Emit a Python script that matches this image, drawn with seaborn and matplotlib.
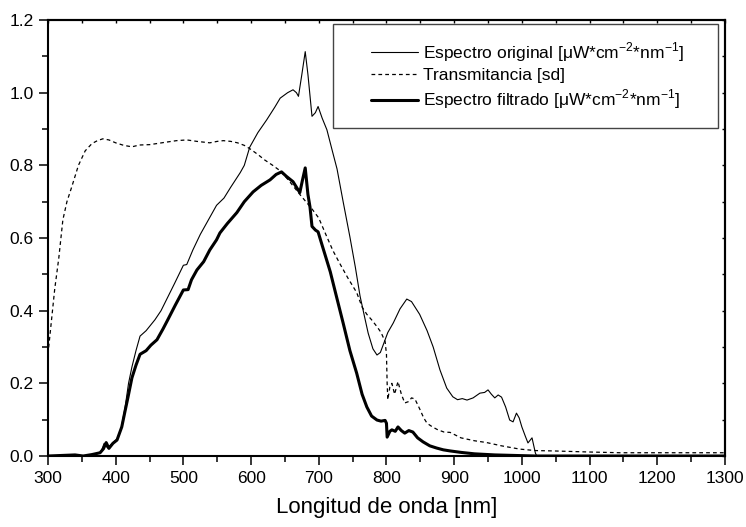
import numpy as np
import pandas as pd
import seaborn as sns
import matplotlib.pyplot as plt
from matplotlib.patches import Rectangle
from matplotlib.ticker import MultipleLocator

# --------------------------
# Dados
# --------------------------
wl_original = [300, 320, 340, 355, 370, 378, 383, 388, 395, 402, 408, 414, 419, 424, 430, 436,
               445, 458, 467, 475, 487, 500, 505, 514, 525, 537, 549, 560, 570, 584, 590, 598,
               610, 623, 635, 643, 654, 662, 667, 670, 675, 680, 684, 690, 695, 699, 705, 712,
               720, 727, 736, 746, 754, 761, 768, 773, 780, 786, 791, 795, 802, 810, 820, 830,
               837, 849, 860, 869, 879, 889, 898, 905, 912, 919, 928, 938, 945, 950, 955, 960,
               965, 970, 976, 982, 987, 992, 996, 1000, 1005, 1009, 1015, 1020, 1022, 1300]
original = [0.0, 0.0, 0.003, 0.0, 0.006, 0.01, 0.035, 0.022, 0.035, 0.047, 0.075, 0.135, 0.2,
            0.245, 0.29, 0.33, 0.345, 0.375, 0.40, 0.43, 0.475, 0.525, 0.527, 0.567, 0.61, 0.65,
            0.69, 0.71, 0.74, 0.78, 0.80, 0.85, 0.89, 0.925, 0.96, 0.985, 1.0, 1.008, 1.0, 0.99,
            1.05, 1.113, 1.05, 0.935, 0.945, 0.962, 0.93, 0.898, 0.84, 0.79, 0.70, 0.603, 0.52,
            0.44, 0.38, 0.338, 0.295, 0.278, 0.285, 0.305, 0.34, 0.366, 0.405, 0.432, 0.425,
            0.39, 0.345, 0.30, 0.237, 0.187, 0.163, 0.155, 0.158, 0.154, 0.16, 0.173, 0.175,
            0.182, 0.17, 0.16, 0.168, 0.162, 0.135, 0.099, 0.094, 0.118, 0.105, 0.08, 0.055,
            0.036, 0.05, 0.008, 0.0, 0.0]

wl_transm = [300, 305, 310, 316, 322, 328, 335, 345, 355, 365, 373, 381, 390, 400, 412, 424,
             435, 450, 461, 475, 490, 505, 520, 539, 550, 559, 570, 580, 590, 598, 610, 620,
             632, 643, 655, 672, 690, 700, 712, 721, 731, 743, 756, 764, 771, 778, 786, 792,
             798, 800, 801, 802, 805, 808, 812, 817, 822, 827, 833, 837, 842, 849, 855, 860,
             868, 876, 885, 894, 910, 930, 948, 970, 997, 1020, 1046, 1100, 1145, 1200, 1250, 1300]
transm = [0.28, 0.37, 0.46, 0.545, 0.65, 0.70, 0.74, 0.80, 0.84, 0.86, 0.868, 0.873, 0.87,
          0.862, 0.855, 0.851, 0.856, 0.857, 0.86, 0.864, 0.868, 0.87, 0.866, 0.862, 0.866,
          0.868, 0.866, 0.862, 0.855, 0.846, 0.83, 0.815, 0.80, 0.785, 0.76, 0.72, 0.68, 0.655,
          0.603, 0.565, 0.53, 0.49, 0.45, 0.41, 0.39, 0.375, 0.356, 0.34, 0.315, 0.28, 0.2,
          0.155, 0.19, 0.2, 0.17, 0.205, 0.17, 0.146, 0.15, 0.16, 0.157, 0.13, 0.105, 0.09,
          0.08, 0.072, 0.066, 0.065, 0.05, 0.042, 0.037, 0.028, 0.019, 0.015, 0.014, 0.011,
          0.009, 0.009, 0.009, 0.009]

wl_filtrado = [300, 340, 352, 365, 377, 382, 386, 390, 396, 402, 409, 414, 418, 424, 430, 436,
               445, 452, 461, 470, 477, 488, 500, 507, 512, 520, 530, 539, 549, 554, 565, 579,
               590, 603, 615, 628, 637, 645, 652, 662, 667, 672, 676, 680, 684, 687, 690, 695,
               699, 705, 717, 726, 736, 746, 756, 764, 771, 778, 786, 792, 798, 800, 801, 805,
               808, 813, 817, 822, 827, 833, 839, 846, 854, 864, 874, 884, 894, 910, 930, 960,
               1000, 1020, 1300]
filtrado = [0.0, 0.003, 0.0, 0.004, 0.009, 0.02, 0.037, 0.021, 0.035, 0.044, 0.08, 0.125, 0.16,
            0.215, 0.25, 0.28, 0.29, 0.305, 0.32, 0.35, 0.375, 0.415, 0.457, 0.458, 0.485, 0.512,
            0.535, 0.567, 0.595, 0.614, 0.64, 0.67, 0.70, 0.727, 0.745, 0.76, 0.775, 0.782, 0.77,
            0.755, 0.74, 0.725, 0.76, 0.793, 0.72, 0.686, 0.632, 0.622, 0.617, 0.58, 0.507, 0.44,
            0.366, 0.29, 0.228, 0.17, 0.135, 0.11, 0.099, 0.096, 0.098, 0.09, 0.052, 0.068, 0.072,
            0.068, 0.08, 0.07, 0.063, 0.07, 0.066, 0.05, 0.039, 0.028, 0.022, 0.017, 0.014, 0.01,
            0.006, 0.003, 0.001, 0.0, 0.0]

labels = ['Espectro original [μW*cm$^{\\mathregular{-2}}$*nm$^{\\mathregular{-1}}$]',
          'Transmitancia [sd]',
          'Espectro filtrado [μW*cm$^{\\mathregular{-2}}$*nm$^{\\mathregular{-1}}$]']
xlabel = 'Longitud de onda [nm]'

# --------------------------
# Estilo
# --------------------------
sns.set_style('white')
plt.rcParams['font.family'] = ['Liberation Sans', 'DejaVu Sans']
plt.rcParams['axes.linewidth'] = 1.5
for k in ['text.color', 'axes.labelcolor', 'xtick.color', 'ytick.color', 'axes.edgecolor']:
    plt.rcParams[k] = 'black'

fig, ax = plt.subplots(figsize=(7.46, 5.27), dpi=100)
fig.subplots_adjust(left=0.0643, right=0.9718, top=0.962, bottom=0.1347)

df_orig = pd.DataFrame({'x': wl_original, 'y': original})
df_tr = pd.DataFrame({'x': wl_transm, 'y': transm})
df_fil = pd.DataFrame({'x': wl_filtrado, 'y': filtrado})

sns.lineplot(data=df_orig, x='x', y='y', ax=ax, color='black', lw=0.8,
             estimator=None, sort=False, label=labels[0])
sns.lineplot(data=df_tr, x='x', y='y', ax=ax, color='black', lw=0.9,
             estimator=None, sort=False, label=labels[1], dashes=False)
ax.lines[-1].set_dashes((3, 2.5))
sns.lineplot(data=df_fil, x='x', y='y', ax=ax, color='black', lw=2.2,
             estimator=None, sort=False, label=labels[2])

ax.set_xlim(300, 1300)
ax.set_ylim(0, 1.2)
ax.xaxis.set_major_locator(MultipleLocator(100))
ax.xaxis.set_minor_locator(MultipleLocator(50))
ax.yaxis.set_major_locator(MultipleLocator(0.2))
ax.yaxis.set_minor_locator(MultipleLocator(0.1))
ax.yaxis.set_major_formatter(plt.FormatStrFormatter('%.1f'))
ax.tick_params(which='major', direction='out', length=6.5, width=1.1, labelsize=12.5, pad=4,
               bottom=True, left=True, colors='black')
ax.tick_params(which='minor', direction='out', length=4.3, width=1.1, bottom=True, left=True,
               colors='black')

# ticks internos em cima e à direita (estilo Origin)
top = ax.secondary_xaxis('top')
top.xaxis.set_major_locator(MultipleLocator(50))
top.tick_params(direction='in', length=2.5, width=1, labeltop=False, colors='black')
right = ax.secondary_yaxis('right')
right.yaxis.set_major_locator(MultipleLocator(0.1))
right.tick_params(direction='in', length=2.5, width=1, labelright=False, colors='black')

ax.set_xlabel(xlabel, fontsize=16, labelpad=8)
ax.set_ylabel('')

# legenda com moldura
ax.add_patch(Rectangle((0.421, 0.7523), 0.9897 - 0.421, 0.9908 - 0.7523, transform=ax.transAxes,
                       fill=False, edgecolor='#444444', lw=1.0, zorder=5))
leg = ax.legend(loc='center', bbox_to_anchor=(0.708, 0.872), frameon=False, fontsize=12.5,
                handlelength=2.7, handletextpad=0.3, labelspacing=0.25, borderpad=0)

fig.savefig('out.png', dpi=100)
